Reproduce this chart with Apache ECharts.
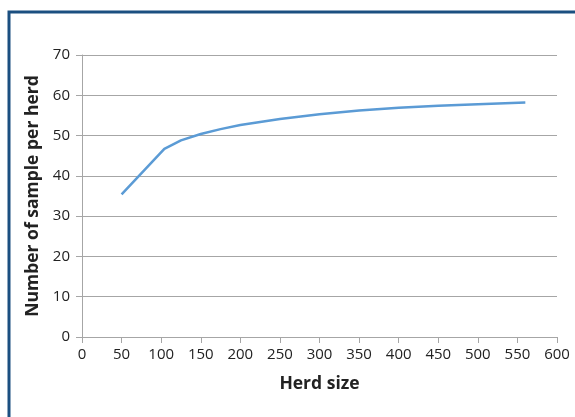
<!DOCTYPE html>
<html>
<head>
<meta charset="utf-8">
<script src="https://cdn.jsdelivr.net/npm/echarts@6/dist/echarts.min.js"></script>
<style>html,body{margin:0;padding:0;background:#fff}#c{width:575px;height:417px}</style>
</head>
<body>
<div id="c"></div>
<script>
var herdSize = [50, 104, 125, 150, 175, 200, 250, 300, 350, 400, 450, 500, 560];
var samples  = [35.4, 46.7, 48.8, 50.4, 51.6, 52.6, 54.1, 55.3, 56.2, 56.9, 57.4, 57.8, 58.2];
var xTitle = 'Herd size';
var yTitle = 'Number of sample per herd';

var chart = echarts.init(document.getElementById('c'));
var font = '"Open Sans", "Noto Sans", sans-serif';
chart.setOption({
  animation: false,
  graphic: [{
    type: 'rect', silent: true,
    shape: { x: 9, y: 12, width: 620, height: 460 },
    style: { fill: 'none', stroke: '#1b4f80', lineWidth: 3 }
  }],
  grid: { left: 82, right: 18, top: 55, bottom: 80 },
  xAxis: {
    type: 'value', min: 0, max: 600, interval: 50,
    name: xTitle, nameLocation: 'middle', nameGap: 38,
    nameTextStyle: { fontFamily: font, fontSize: 17.5, fontWeight: 'bold', color: '#222' },
    axisLine: { lineStyle: { color: '#a6a6a6', width: 1 } },
    axisTick: { show: true, length: 6, lineStyle: { color: '#a6a6a6' } },
    axisLabel: { fontFamily: font, fontSize: 15, color: '#222', margin: 10 },
    splitLine: { show: false }
  },
  yAxis: {
    type: 'value', min: 0, max: 70, interval: 10,
    name: yTitle, nameLocation: 'middle', nameGap: 38, nameRotate: 90,
    nameTextStyle: { fontFamily: font, fontSize: 17.5, fontWeight: 'bold', color: '#222' },
    axisLine: { show: true, lineStyle: { color: '#a6a6a6', width: 1 } },
    axisTick: { show: true, length: 6, lineStyle: { color: '#a6a6a6' } },
    axisLabel: { fontFamily: font, fontSize: 15, color: '#222', margin: 12 },
    splitLine: { show: true, lineStyle: { color: '#a6a6a6', width: 1 } }
  },
  series: [{
    type: 'line',
    data: herdSize.map(function (x, i) { return [x, samples[i]]; }),
    showSymbol: false,
    smooth: false,
    lineStyle: { color: '#5b9bd5', width: 2.5 }
  }]
});
</script>
</body>
</html>
